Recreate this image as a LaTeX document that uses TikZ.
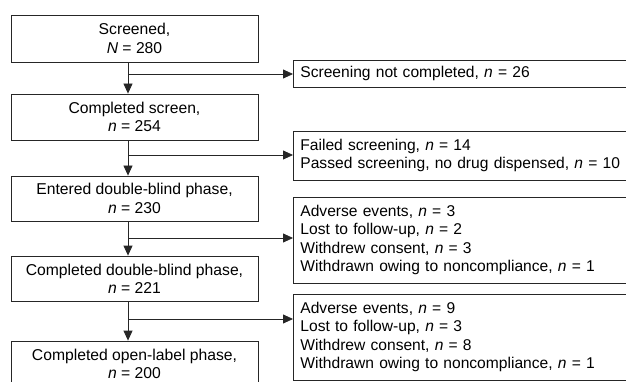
\documentclass[tikz,border=0pt]{standalone}
\usepackage{fontspec}
\setmainfont{Liberation Sans}
\usetikzlibrary{arrows.meta}
\begin{document}
\begin{tikzpicture}[x=1pt,y=-1pt,
  lbox/.style={draw=black!85, line width=0.8pt, minimum width=247pt, inner sep=0pt,
    align=center, font=\fontsize{15.7}{18.3}\selectfont},
  rbox/.style={draw=black!85, line width=0.8pt, inner ysep=0pt, inner xsep=7pt,
    align=left, font=\fontsize{15.6}{18.3}\selectfont, text width=380pt},
  arr/.style={draw=black!85, line width=0.8pt, -{Triangle[length=10pt,width=9pt]}}]
\useasboundingbox (0,0) rectangle (626,382);
% left column
\node[lbox, minimum height=47pt] (b1) at (134.5,38.5) {Screened,\\\textit{N} = 280};
\node[lbox, minimum height=46pt] (b2) at (134.5,117) {Completed screen,\\\textit{n} = 254};
\node[lbox, minimum height=45pt] (b3) at (134.5,198.5) {Entered double-blind phase,\\\textit{n} = 230};
\node[lbox, minimum height=45pt] (b4) at (134.5,278.5) {Completed double-blind phase,\\\textit{n} = 221};
\node[lbox, minimum height=46pt] (b5) at (134.5,364) {Completed open-label phase,\\\textit{n} = 200};
% right column
\node[rbox, minimum height=27pt, anchor=west] (r1) at (293,73.5) {Screening not completed, \textit{n} = 26};
\node[rbox, minimum height=49pt, anchor=west] (r2) at (293,155.5) {Failed screening, \textit{n} = 14\\Passed screening, no drug dispensed, \textit{n} = 10};
\node[rbox, minimum height=86pt, anchor=west] (r3) at (293,240) {Adverse events, \textit{n} = 3\\Lost to follow-up, \textit{n} = 2\\Withdrew consent, \textit{n} = 3\\Withdrawn owing to noncompliance, \textit{n} = 1};
\node[rbox, minimum height=86pt, anchor=west] (r4) at (293,337) {Adverse events, \textit{n} = 9\\Lost to follow-up, \textit{n} = 3\\Withdrew consent, \textit{n} = 8\\Withdrawn owing to noncompliance, \textit{n} = 1};
% junctions
\coordinate (j1) at (128,74);
\coordinate (j2) at (128,155);
\coordinate (j3) at (128,238);
\coordinate (j4) at (128,319);
% trunks
\draw[arr] (j1 |- b1.south) -- (j1 |- b2.north);
\draw[arr] (j2 |- b2.south) -- (j2 |- b3.north);
\draw[arr] (j3 |- b3.south) -- (j3 |- b4.north);
\draw[arr] (j4 |- b4.south) -- (j4 |- b5.north);
% branches
\draw[arr] (j1) -- (j1 -| r1.west);
\draw[arr] (j2) -- (j2 -| r2.west);
\draw[arr] (j3) -- (j3 -| r3.west);
\draw[arr] (j4) -- (j4 -| r4.west);
\end{tikzpicture}
\end{document}
